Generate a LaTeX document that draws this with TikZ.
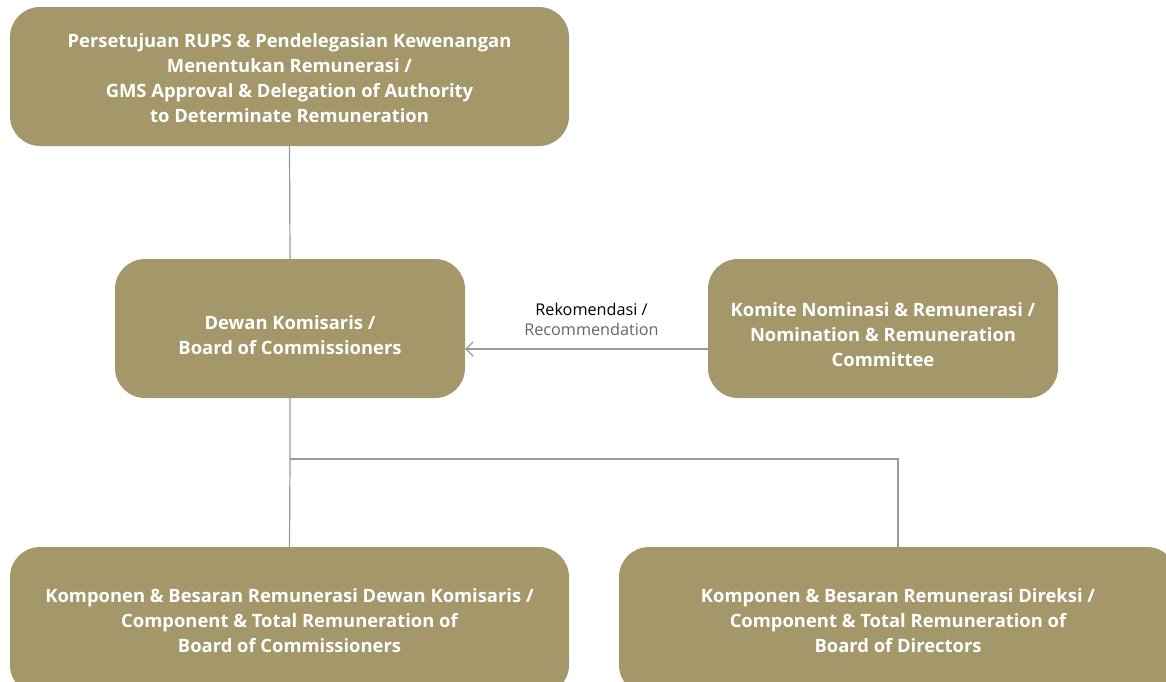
\documentclass[tikz,border=0pt]{standalone}
\usepackage{fontspec}
\setmainfont{Open Sans}
\usetikzlibrary{arrows.meta}
\definecolor{gold}{HTML}{A4976A}
\definecolor{wire}{HTML}{9A9A9A}
\tikzset{
	box/.style={fill=gold, rounded corners=30pt, inner sep=0pt},
	boxtext/.style={text=white, align=center, font=\fontsize{18.4}{25}\selectfont\bfseries, inner sep=0pt},
	wire/.style={draw=wire, line width=1.2pt},
}

\begin{document}
\begin{tikzpicture}[x=1pt, y=-1pt]
		%%%%% START %%%%%
		\useasboundingbox (0, 0) rectangle (1166, 681);
		\clip (0, 0) rectangle (1166, 681);
		
		% approval box
		\node[box, minimum width=559pt, minimum height=139pt] (rups) at (289.5, 76.5) {};
		\node[boxtext] (rups-text) at ([yshift=-2pt]rups)
			{Persetujuan RUPS \& Pendelegasian Kewenangan\\Menentukan Remunerasi /\\GMS Approval \& Delegation of Authority\\to Determinate Remuneration};
		
		% board and committee
		\node[box, minimum width=350pt, minimum height=139pt] (dekom) at (290, 328.5) {};
		\node[boxtext] (dekom-text) at ([yshift=-6.5pt]dekom)
			{Dewan Komisaris /\\Board of Commissioners};
		\node[box, minimum width=350pt, minimum height=139pt] (nomrem) at (883, 328.5) {};
		\node[boxtext] (nomrem-text) at ([yshift=-6pt]nomrem)
			{Komite Nominasi \& Remunerasi /\\Nomination \& Remuneration\\Committee};
		
		% remuneration boxes
		\node[box, minimum width=559pt, minimum height=148pt] (remdekom) at (289.5, 621) {};
		\node[boxtext] (remdekom-text) at (remdekom)
			{Komponen \& Besaran Remunerasi Dewan Komisaris /\\Component \& Total Remuneration of\\Board of Commissioners};
		\node[box, minimum width=558pt, minimum height=148pt] (remdir) at (898, 621) {};
		\node[boxtext] (remdir-text) at (remdir)
			{Komponen \& Besaran Remunerasi Direksi /\\Component \& Total Remuneration of\\Board of Directors};
		
		\coordinate (split) at (290, 459);
		\draw[wire] (rups.south) -- (dekom.north);
		\draw[wire] (dekom.south) -- (split) -- (remdekom.north);
		\draw[wire] (split) -| (remdir.north);
		
		\draw[wire, -{Straight Barb[length=7pt, width=14pt]}] ([yshift=-20.5pt]nomrem.west) -- ([yshift=-20.5pt]dekom.east)
			node[midway, above=9pt, xshift=5pt, align=center, font=\fontsize{16.2}{20}\selectfont]
			{Rekomendasi /\\\textcolor{black!60}{Recommendation}};
		%%%%% END %%%%%
	\end{tikzpicture}
\end{document}
